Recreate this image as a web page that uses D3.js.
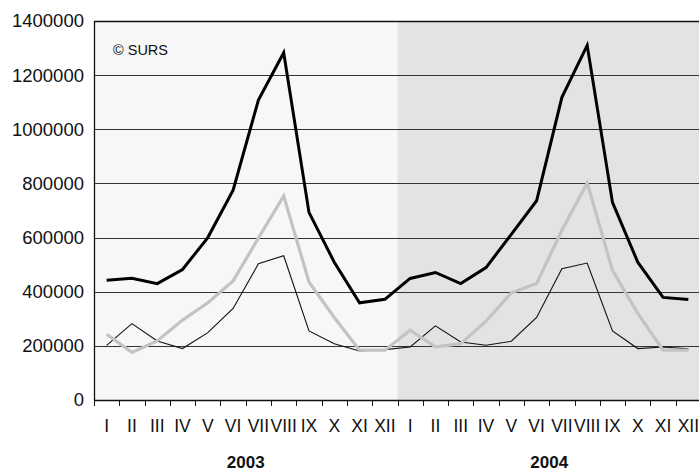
<!DOCTYPE html>
<html>
<head>
<meta charset="utf-8">
<script src="https://cdn.jsdelivr.net/npm/d3@7"></script>
<style>
  body { margin: 0; background: #fff; }
  text { font-family: "Liberation Sans", Arial, sans-serif; fill: #111; }
</style>
</head>
<body>
<script>
const width = 699;
const height = 472;
const margin = { top: 21, right: -2, bottom: 72, left: 94 };

const months = ['I', 'II', 'III', 'IV', 'V', 'VI', 'VII', 'VIII', 'IX', 'X', 'XI', 'XII'];
const years = ['2003', '2004'];
const yTicks = [0, 200000, 400000, 600000, 800000, 1000000, 1200000, 1400000];

// thick black line
const seriesTotal = [442000, 450000, 430000, 482000, 600000, 775000, 1108000, 1283000, 693000, 509000, 359000, 372000,
                     449000, 471000, 430000, 489000, 612000, 736000, 1118000, 1310000, 730000, 509000, 379000, 371000];
// thick grey line
const seriesGrey = [243000, 176000, 218000, 295000, 359000, 440000, 598000, 754000, 436000, 305000, 184000, 184000,
                    258000, 196000, 208000, 291000, 396000, 430000, 627000, 802000, 479000, 320000, 184000, 184000];
// thin black line
const seriesThin = [202000, 282000, 218000, 190000, 249000, 338000, 503000, 533000, 255000, 208000, 181000, 186000,
                    196000, 274000, 214000, 202000, 217000, 305000, 485000, 506000, 255000, 190000, 196000, 189000];

const labels = years.flatMap(() => months);
const idx = d3.range(labels.length);

const innerW = width - margin.left - margin.right;
const innerH = height - margin.top - margin.bottom;

const svg = d3.select('body').append('svg')
  .attr('width', width)
  .attr('height', height);

const g = svg.append('g')
  .attr('transform', `translate(${margin.left},${margin.top})`);

const x = d3.scaleBand().domain(idx).range([0, innerW]).padding(0);
const y = d3.scaleLinear().domain([0, 1400000]).range([innerH, 0]);

// year backgrounds
const bg = ['#f7f7f7', '#e3e3e3'];
years.forEach((yr, i) => {
  g.append('rect')
    .attr('x', x(i * 12))
    .attr('y', 0)
    .attr('width', x.bandwidth() * 12)
    .attr('height', innerH)
    .attr('fill', bg[i]);
});

// gridlines
g.selectAll('.grid')
  .data(yTicks.filter(d => d > 0))
  .enter().append('line')
  .attr('x1', 0)
  .attr('x2', innerW)
  .attr('y1', d => Math.round(y(d)) + 0.5)
  .attr('y2', d => Math.round(y(d)) + 0.5)
  .attr('stroke', d => d === 1400000 ? '#111' : '#333')
  .attr('stroke-width', d => d === 1400000 ? 1.5 : 1);

// y axis
const yAxis = g.append('g')
  .call(d3.axisLeft(y).tickValues(yTicks).tickSize(0).tickPadding(10).tickFormat(d3.format('d')));
yAxis.select('.domain').attr('stroke', '#111').attr('stroke-width', 1.3);
yAxis.selectAll('text').attr('font-size', '18.5px').attr('fill', '#111');

// x axis
const xAxis = g.append('g')
  .attr('transform', `translate(0,${innerH})`)
  .call(d3.axisBottom(x).tickSize(0).tickPadding(20).tickFormat(i => labels[i]));
xAxis.select('.domain').attr('stroke', '#111').attr('stroke-width', 1.6);
xAxis.selectAll('text').attr('font-size', '17.5px').attr('fill', '#111');

// ticks between categories
g.selectAll('.xtick')
  .data(d3.range(labels.length + 1))
  .enter().append('line')
  .attr('x1', i => Math.round(i === labels.length ? innerW : x(i)) + 0.5)
  .attr('x2', i => Math.round(i === labels.length ? innerW : x(i)) + 0.5)
  .attr('y1', innerH)
  .attr('y2', innerH + 6)
  .attr('stroke', '#111')
  .attr('stroke-width', 1);

// year labels
years.forEach((yr, i) => {
  g.append('text')
    .attr('x', x(i * 12) + x.bandwidth() * 6)
    .attr('y', innerH + 68)
    .attr('text-anchor', 'middle')
    .attr('font-size', '17px')
    .attr('font-weight', 'bold')
    .text(yr);
});

// lines
const line = d3.line()
  .x((d, i) => x(i) + x.bandwidth() / 2)
  .y(d => y(d));

g.append('path').datum(seriesThin)
  .attr('d', line).attr('fill', 'none')
  .attr('stroke', '#111').attr('stroke-width', 1.1);

g.append('path').datum(seriesGrey)
  .attr('d', line).attr('fill', 'none')
  .attr('stroke', '#c3c3c3').attr('stroke-width', 3.2);

g.append('path').datum(seriesTotal)
  .attr('d', line).attr('fill', 'none')
  .attr('stroke', '#000').attr('stroke-width', 3);

// source note
g.append('text')
  .attr('x', 19)
  .attr('y', 34)
  .attr('font-size', '14.5px')
  .text('© SURS');
</script>
</body>
</html>
